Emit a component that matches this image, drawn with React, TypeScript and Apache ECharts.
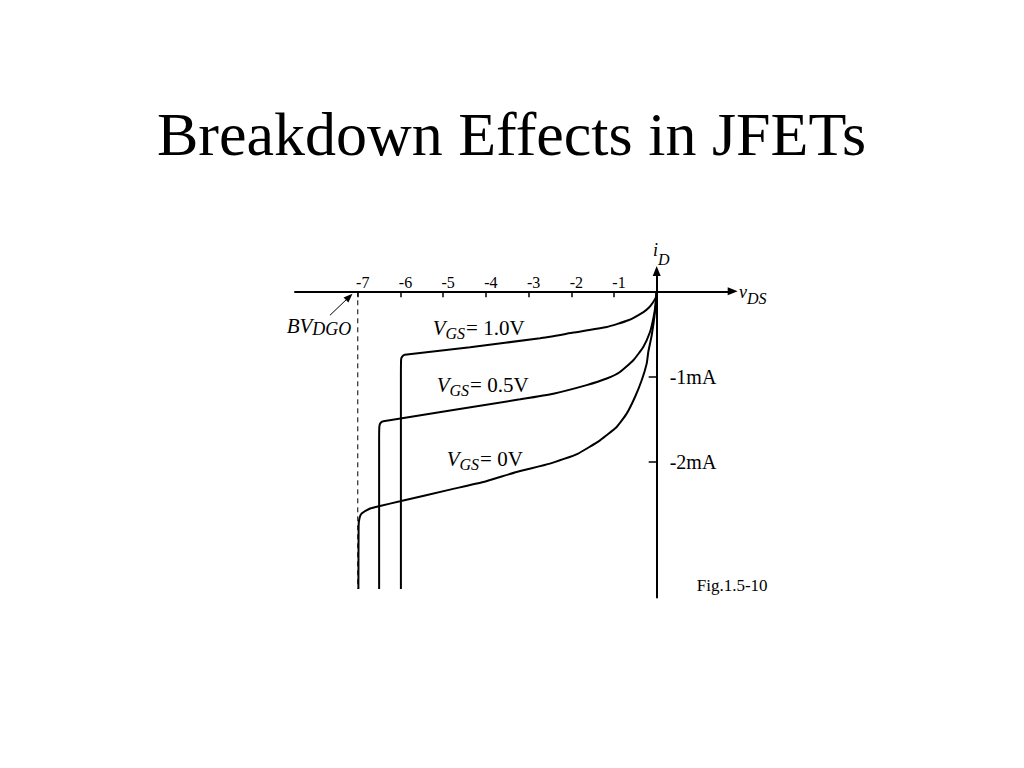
import React, { useEffect, useRef } from "react";
import * as echarts from "echarts";

// ---- data (drain voltage vDS in V, drain current iD in mA) ----
const TITLE = "Breakdown Effects in JFETs";
const FIG_NOTE = "Fig.1.5-10";
const X_TICKS = [-7, -6, -5, -4, -3, -2, -1];
const Y_TICKS = [-1, -2];
const Y_UNIT = "mA";
const VGS_NAMES = ["1.0V", "0.5V", "0V"];
const BREAKDOWN_V = -7;

const VGS_10: [number, number][] = [
  [0, 0], [-0.016, -0.067], [-0.08, -0.125], [-0.18, -0.19], [-0.31, -0.243],
  [-0.665, -0.34], [-1.17, -0.419], [-1.95, -0.484], [-2.73, -0.55],
  [-4.37, -0.655], [-5.9, -0.745], [-5.96, -0.765], [-5.985, -0.8],
  [-5.99, -1.0], [-5.99, -3.49],
];
const VGS_05: [number, number][] = [
  [0, 0], [-0.028, -0.164], [-0.08, -0.32], [-0.157, -0.477], [-0.314, -0.653],
  [-0.548, -0.809], [-0.86, -0.946], [-1.17, -1.023], [-1.64, -1.1],
  [-2.42, -1.2], [-3.2, -1.266], [-6.4, -1.524], [-6.47, -1.545],
  [-6.495, -1.59], [-6.5, -1.75], [-6.5, -3.49],
];
const VGS_00: [number, number][] = [
  [0, 0], [-0.04, -0.243], [-0.117, -0.516], [-0.197, -0.712], [-0.234, -0.848],
  [-0.351, -1.043], [-0.508, -1.239], [-0.703, -1.434], [-0.937, -1.591],
  [-1.328, -1.747], [-1.85, -1.905], [-2.5, -2.02], [-3.28, -2.118],
  [-4.06, -2.236], [-4.84, -2.325], [-6.01, -2.462], [-6.48, -2.517],
  [-6.71, -2.547], [-6.91, -2.606], [-6.96, -2.66], [-6.98, -2.75],
  [-6.985, -3.49],
];
const BV_LINE: [number, number][] = [[BREAKDOWN_V, 0], [BREAKDOWN_V, -3.49]];

const X_MIN = -8.47;
const X_MAX = 1.78;
const Y_MIN = -3.59;
const Y_MAX = 0.238;

const SERIF = "'Liberation Serif', 'Times New Roman', Times, serif";

export default function App() {
  const ref = useRef<HTMLDivElement>(null);

  useEffect(() => {
    if (!ref.current) return;
    const chart = echarts.init(ref.current, null, { renderer: "svg" });
    const black = "#000";
    const G = { left: 295, top: 271, width: 437.7, height: 326.5 };
    // move the axes from the grid edges to the zero lines (labels follow them)
    const xAxisOffset = -(G.height * (0 - Y_MIN)) / (Y_MAX - Y_MIN);
    const yAxisOffset = -(G.width * (0 - X_MIN)) / (X_MAX - X_MIN);

    const curve = (data: [number, number][], name: string) => ({
      type: "line",
      name,
      data,
      symbol: "none",
      silent: true,
      smooth: 0.15,
      lineStyle: { color: black, width: 2 },
    });
    const vgsRich = {
      v: { fontFamily: SERIF, fontSize: 21, fontStyle: "italic", color: black },
      s: { fontFamily: SERIF, fontSize: 16, fontStyle: "italic", color: black, padding: [11, 1, 0, 0] },
      n: { fontFamily: SERIF, fontSize: 21, color: black },
    };
    const vgsText = (label: string, x: number, y: number) => ({
      type: "text",
      x,
      y,
      style: {
        text: `{v|V}{s|GS}{n|= ${label}}`,
        rich: vgsRich,
        align: "left",
        verticalAlign: "middle",
      },
    });

    chart.setOption({
      animation: false,
      backgroundColor: "#fff",
      grid: G,
      xAxis: {
        type: "value",
        min: X_MIN,
        max: X_MAX,
        position: "bottom",
        offset: xAxisOffset,
        axisLine: {
          onZero: false,
          symbol: ["none", "triangle"],
          symbolSize: [8, 10],
          lineStyle: { color: black, width: 2 },
        },
        axisTick: { show: true, inside: false, length: 6, customValues: X_TICKS, lineStyle: { color: black, width: 1.5 } },
        axisLabel: {
          inside: true,
          margin: 1,
          customValues: X_TICKS,
          fontFamily: SERIF,
          fontSize: 16,
          color: black,
          padding: [0, 0, 0, 10],
        },
        splitLine: { show: false },
      },
      yAxis: {
        type: "value",
        min: Y_MIN,
        max: Y_MAX,
        position: "left",
        offset: yAxisOffset,
        axisLine: {
          onZero: false,
          symbol: ["none", "triangle"],
          symbolSize: [8, 10],
          lineStyle: { color: black, width: 2 },
        },
        axisTick: { show: true, inside: false, length: 8, customValues: Y_TICKS, lineStyle: { color: black, width: 1.5 } },
        axisLabel: {
          inside: true,
          margin: 13,
          customValues: Y_TICKS,
          formatter: (v: number) => `${v}${Y_UNIT}`,
          fontFamily: SERIF,
          fontSize: 20,
          color: black,
        },
        splitLine: { show: false },
      },
      series: [
        curve(VGS_10, VGS_NAMES[0]),
        curve(VGS_05, VGS_NAMES[1]),
        curve(VGS_00, VGS_NAMES[2]),
        {
          type: "line",
          name: "BVDGO",
          data: BV_LINE,
          symbol: "none",
          silent: true,
          lineStyle: { color: black, width: 1, type: [5, 4] },
          markLine: {
            silent: true,
            symbol: ["none", "triangle"],
            symbolSize: [7, 9],
            label: { show: false },
            lineStyle: { color: black, width: 1, type: "solid" },
            data: [[{ coord: [-7.651, -0.281] }, { coord: [-7.2, -0.065] }]],
          },
        },
      ],
      graphic: [
        {
          type: "text",
          x: 511.5,
          y: 134,
          style: { text: TITLE, fontFamily: SERIF, fontSize: 62, fill: black, align: "center", verticalAlign: "middle" },
        },
        vgsText(VGS_NAMES[0], 432.7, 327.5),
        vgsText(VGS_NAMES[1], 436.7, 384.6),
        vgsText(VGS_NAMES[2], 446.7, 458.9),
        {
          type: "text",
          x: 653,
          y: 249.5,
          style: {
            text: "{m|i}{s|D}",
            align: "left",
            verticalAlign: "middle",
            rich: {
              m: { fontFamily: SERIF, fontSize: 18, fontStyle: "italic", color: black },
              s: { fontFamily: SERIF, fontSize: 16, fontStyle: "italic", color: black, padding: [19, 0, 0, 0] },
            },
          },
        },
        {
          type: "text",
          x: 739,
          y: 291.9,
          style: {
            text: "{m|v}{s|DS}",
            align: "left",
            verticalAlign: "middle",
            rich: {
              m: { fontFamily: SERIF, fontSize: 18, fontStyle: "italic", color: black },
              s: { fontFamily: SERIF, fontSize: 16, fontStyle: "italic", color: black, padding: [13, 0, 0, 0] },
            },
          },
        },
        {
          type: "text",
          x: 286.7,
          y: 326.2,
          style: {
            text: "{m|BV}{s|DGO}",
            align: "left",
            verticalAlign: "middle",
            rich: {
              m: { fontFamily: SERIF, fontSize: 21, fontStyle: "italic", color: black },
              s: { fontFamily: SERIF, fontSize: 18, fontStyle: "italic", color: black, padding: [5, 0, 0, 0] },
            },
          },
        },
        {
          type: "text",
          x: 696.7,
          y: 585.3,
          style: { text: FIG_NOTE, fontFamily: SERIF, fontSize: 17, fill: black, align: "left", verticalAlign: "middle" },
        },
      ],
    });
    return () => chart.dispose();
  }, []);

  return (
    <div
      ref={ref}
      style={{ position: "fixed", left: 0, top: 0, width: 1024, height: 768, background: "#fff" }}
    />
  );
}
